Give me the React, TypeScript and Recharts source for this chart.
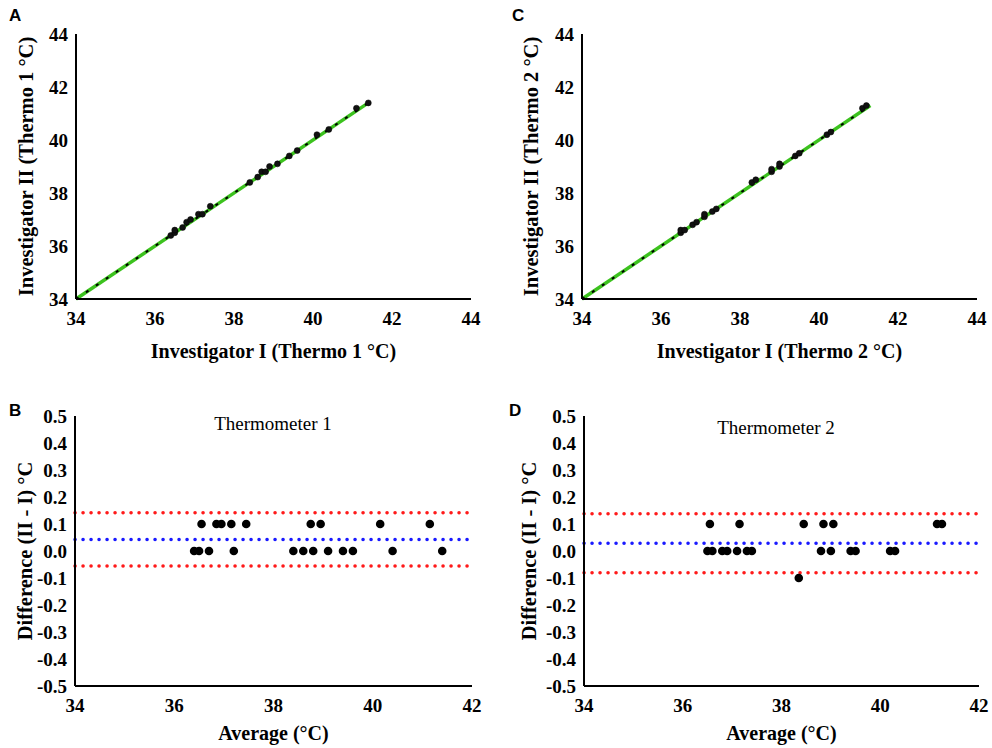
import React from 'react';
import { ScatterChart, Scatter, XAxis, YAxis, ReferenceLine, Label } from 'recharts';

// Panel A: Thermometer 1, investigator I vs II
const t1InvI = [36.4, 36.5, 36.5, 36.7, 36.8, 36.9, 37.1, 37.2, 37.4, 38.4, 38.6, 38.7, 38.8, 38.9, 39.1, 39.4, 39.6, 40.1, 40.4, 41.1, 41.4];
const t1InvII = [36.4, 36.5, 36.6, 36.7, 36.9, 37.0, 37.2, 37.2, 37.5, 38.4, 38.6, 38.8, 38.8, 39.0, 39.1, 39.4, 39.6, 40.2, 40.4, 41.2, 41.4];
// Panel C: Thermometer 2
const t2InvI = [36.5, 36.5, 36.6, 36.8, 36.9, 37.1, 37.1, 37.3, 37.4, 38.3, 38.4, 38.8, 38.8, 39.0, 39.0, 39.4, 39.5, 40.2, 40.3, 41.1, 41.2];
const t2InvII = [36.5, 36.6, 36.6, 36.8, 36.9, 37.1, 37.2, 37.3, 37.4, 38.4, 38.5, 38.8, 38.9, 39.0, 39.1, 39.4, 39.5, 40.2, 40.3, 41.2, 41.3];
// identity line ends
const line1 = [34, 41.4];
const line2 = [34, 41.3];

// Panel B: Bland-Altman thermometer 1
const avg1 = [36.4, 36.5, 36.55, 36.7, 36.85, 36.95, 37.15, 37.2, 37.45, 38.4, 38.6, 38.75, 38.8, 38.95, 39.1, 39.4, 39.6, 40.15, 40.4, 41.15, 41.4];
const diff1 = [0, 0, 0.1, 0, 0.1, 0.1, 0.1, 0, 0.1, 0, 0, 0.1, 0, 0.1, 0, 0, 0, 0.1, 0, 0.1, 0];
const limits1 = { bias: 0.043, upper: 0.142, lower: -0.056 };
// Panel D: Bland-Altman thermometer 2
const avg2 = [36.5, 36.55, 36.6, 36.8, 36.9, 37.1, 37.15, 37.3, 37.4, 38.35, 38.45, 38.8, 38.85, 39.0, 39.05, 39.4, 39.5, 40.2, 40.3, 41.15, 41.25];
const diff2 = [0, 0.1, 0, 0, 0, 0, 0.1, 0, 0, -0.1, 0.1, 0, 0.1, 0, 0.1, 0, 0, 0, 0, 0.1, 0.1];
const limits2 = { bias: 0.029, upper: 0.138, lower: -0.081 };

const corrTicks = [34, 36, 38, 40, 42, 44];
const avgTicks = [34, 36, 38, 40, 42];
const diffTicks = [-0.5, -0.4, -0.3, -0.2, -0.1, 0, 0.1, 0.2, 0.3, 0.4, 0.5];

const serif = 'Liberation Serif';
const tickFont = "'Liberation Serif', 'DejaVu Serif', serif";
const axisLine = { stroke: '#000', strokeWidth: 2 };
const tickLine = { stroke: '#000', strokeWidth: 2 };

const zip = (xs: number[], ys: number[]) => xs.map((x, i) => ({ x, y: ys[i] }));

// tick label positions are derived from the tick arrays and placed through the chart scales
const xTickPts = (ticks: number[], yMin: number, dec: number) => ticks.map((t) => ({ x: t, y: yMin, label: t.toFixed(dec) }));
const yTickPts = (ticks: number[], xMin: number, dec: number) => ticks.map((t) => ({ x: xMin, y: t, label: t.toFixed(dec) }));

const xTickShape = (p: any) => (
  <text x={p.cx} y={p.cy + 26} textAnchor="middle" fontFamily={tickFont} fontWeight="bold" fontSize={19} fill="#000">
    {p.payload.label}
  </text>
);
const yTickShape = (p: any) => (
  <text x={p.cx - 8} y={p.cy + 6.5} textAnchor="end" fontFamily={tickFont} fontWeight="bold" fontSize={19} fill="#000">
    {p.payload.label}
  </text>
);

const XLab = (text: string, dy: number) => (props: any) => {
  const vb = props.viewBox;
  return (
    <text x={vb.x + vb.width / 2} y={vb.y + dy} textAnchor="middle" fontFamily={serif} fontWeight="bold" fontSize={20} fill="#000">
      {text}
    </text>
  );
};
const YLab = (text: string, dx: number) => (props: any) => {
  const vb = props.viewBox;
  const cx = vb.x + dx;
  const cy = vb.y + vb.height / 2;
  return (
    <text x={cx} y={cy} transform={`rotate(-90 ${cx} ${cy})`} textAnchor="middle" dominantBaseline="middle" fontFamily={serif} fontWeight="bold" fontSize={20.5} fill="#000">
      {text}
    </text>
  );
};

const smallDot = (p: any) => <circle cx={p.cx} cy={p.cy} r={3} fill="#111" stroke="#000" strokeWidth={0.5} />;
const bigDot = (p: any) => <circle cx={p.cx} cy={p.cy} r={4.3} fill="#000" />;

function CorrChart(props: { xs: number[]; ys: number[]; lineEnd: number[]; yAxisW: number; right: number; xLabel: string; yLabel: string; yLabDx: number }) {
  const { xs, ys, lineEnd, yAxisW, right, xLabel, yLabel, yLabDx } = props;
  return (
    <ScatterChart width={496} height={374} margin={{ top: 34, right, bottom: 0, left: 0 }}>
      <XAxis type="number" dataKey="x" domain={[34, 44]} ticks={corrTicks} height={75} axisLine={axisLine} tickLine={tickLine} tickSize={6} tick={false} interval={0}>
        <Label content={XLab(xLabel, 59)} />
      </XAxis>
      <YAxis type="number" dataKey="y" domain={[34, 44]} ticks={corrTicks} width={yAxisW} axisLine={axisLine} tickLine={tickLine} tickSize={6} tick={false} interval={0}>
        <Label content={YLab(yLabel, yLabDx)} />
      </YAxis>
      <ReferenceLine segment={[{ x: lineEnd[0], y: lineEnd[0] }, { x: lineEnd[1], y: lineEnd[1] }]} stroke="#3cc21e" strokeWidth={3.5} ifOverflow="visible" />
      <ReferenceLine segment={[{ x: lineEnd[0], y: lineEnd[0] }, { x: lineEnd[1], y: lineEnd[1] }]} stroke="#000" strokeWidth={2} strokeDasharray="3 9" ifOverflow="visible" />
      <Scatter data={zip(xs, ys)} shape={smallDot} isAnimationActive={false} />
      <Scatter data={xTickPts(corrTicks, 34, 0)} shape={xTickShape} isAnimationActive={false} />
      <Scatter data={yTickPts(corrTicks, 34, 0)} shape={yTickShape} isAnimationActive={false} />
    </ScatterChart>
  );
}

function BAChart(props: { xs: number[]; ys: number[]; lim: { bias: number; upper: number; lower: number }; yAxisW: number; right: number; yLabDx: number }) {
  const { xs, ys, lim, yAxisW, right, yLabDx } = props;
  const dotted = { strokeWidth: 3.5, strokeDasharray: '0.1 7.9', strokeLinecap: 'round' as const };
  return (
    <ScatterChart width={496} height={374} margin={{ top: 42, right, bottom: 0, left: 0 }}>
      <XAxis type="number" dataKey="x" domain={[34, 42]} ticks={avgTicks} height={62} axisLine={axisLine} tickLine={tickLine} tickSize={6} tick={false} interval={0}>
        <Label content={XLab('Average (°C)', 54)} />
      </XAxis>
      <YAxis type="number" dataKey="y" domain={[-0.5, 0.5]} ticks={diffTicks} width={yAxisW} axisLine={axisLine} tickLine={tickLine} tickSize={6} tick={false} interval={0}>
        <Label content={YLab('Difference (II - I) °C', yLabDx)} />
      </YAxis>
      <ReferenceLine y={lim.upper} stroke="#ff1a1a" {...dotted} />
      <ReferenceLine y={lim.bias} stroke="#1a1aff" {...dotted} />
      <ReferenceLine y={lim.lower} stroke="#ff1a1a" {...dotted} />
      <Scatter data={zip(xs, ys)} shape={bigDot} isAnimationActive={false} />
      <Scatter data={xTickPts(avgTicks, -0.5, 0)} shape={xTickShape} isAnimationActive={false} />
      <Scatter data={yTickPts(diffTicks, 34, 1)} shape={yTickShape} isAnimationActive={false} />
    </ScatterChart>
  );
}

const letter = (t: string, left: number, top: number) => (
  <div style={{ position: 'absolute', left, top, fontFamily: '"Liberation Sans", Arial, sans-serif', fontWeight: 'bold', fontSize: 17, lineHeight: '17px', color: '#000' }}>{t}</div>
);
const title = (t: string, cx: number, top: number) => (
  <div style={{ position: 'absolute', left: cx - 100, width: 200, top, textAlign: 'center', fontFamily: serif, fontSize: 19, lineHeight: '20px', color: '#000' }}>{t}</div>
);

export default function App() {
  return (
    <div style={{ position: 'absolute', left: 0, top: 0, width: 992, height: 748, background: '#fff', overflow: 'hidden' }}>
      <div style={{ position: 'absolute', left: 0, top: 0 }}>
        <CorrChart xs={t1InvI} ys={t1InvII} lineEnd={line1} yAxisW={76} right={25} xLabel="Investigator I (Thermo 1 °C)" yLabel="Investigator II (Thermo 1 °C)" yLabDx={28} />
      </div>
      <div style={{ position: 'absolute', left: 496, top: 0 }}>
        <CorrChart xs={t2InvI} ys={t2InvII} lineEnd={line2} yAxisW={86} right={15} xLabel="Investigator I (Thermo 2 °C)" yLabel="Investigator II (Thermo 2 °C)" yLabDx={37} />
      </div>
      <div style={{ position: 'absolute', left: 0, top: 374 }}>
        <BAChart xs={avg1} ys={diff1} lim={limits1} yAxisW={75} right={24} yLabDx={27} />
      </div>
      <div style={{ position: 'absolute', left: 496, top: 374 }}>
        <BAChart xs={avg2} ys={diff2} lim={limits2} yAxisW={88} right={13} yLabDx={35} />
      </div>
      {letter('A', 9, 7)}
      {letter('C', 512, 7)}
      {letter('B', 9, 402)}
      {letter('D', 509, 402)}
      {title('Thermometer 1', 273, 414)}
      {title('Thermometer 2', 776, 418)}
    </div>
  );
}
